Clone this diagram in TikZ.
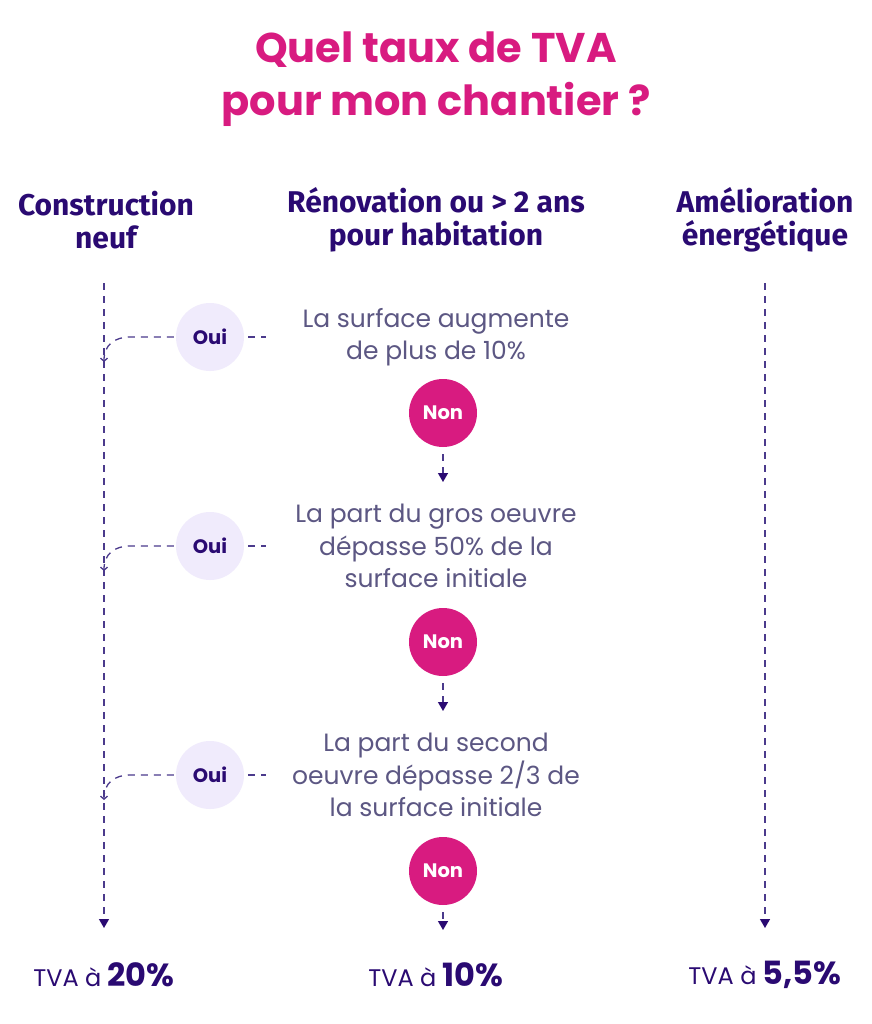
\documentclass[tikz,border=0pt]{standalone}
\usepackage{fontspec}
\setmainfont{Poppins}
\newfontfamily\headfont{Fira Sans}
\usetikzlibrary{arrows.meta}
\definecolor{magc}{HTML}{D81B80}
\definecolor{darkc}{HTML}{2A0A72}
\definecolor{bodyc}{HTML}{5C5783}
\definecolor{dashc}{HTML}{4B3A8C}
\definecolor{lightc}{HTML}{F0EBFC}
\begin{document}
\begin{tikzpicture}[x=1pt,y=-1pt,
  dline/.style={draw=dashc, line width=1.3pt, dash pattern=on 7pt off 6pt},
  endtri/.style={-{Triangle[width=10pt,length=9pt,color=darkc]}},
  endbarb/.style={-{Straight Barb[width=7pt,length=3pt,color=dashc]}},
  titletext/.style={align=center, text=magc, font=\bfseries\fontsize{41.5}{53}\selectfont},
  head/.style={align=center, text=darkc, font=\headfont\bfseries\fontsize{30}{33}\selectfont},
  qtext/.style={align=center, text=bodyc, font=\fontsize{25}{32.5}\selectfont},
  ouic/.style={circle, fill=lightc, minimum size=68pt, inner sep=0pt, text=darkc, font=\bfseries\fontsize{19.5}{19.5}\selectfont},
  nonc/.style={circle, fill=magc, minimum size=68pt, inner sep=0pt, text=white, font=\bfseries\fontsize{19.5}{19.5}\selectfont},
  result/.style={text=darkc, inner sep=0pt},
]
\useasboundingbox[fill=white] (0,0) rectangle (871,1024);

\node[titletext] (title) at (436,79) {Quel taux de TVA\\pour mon chantier ?};

\node[head] (h1) at (106,220) {Construction\\neuf};
\node[head] (h2) at (436,220) {Rénovation ou > 2 ans\\pour habitation};
\node[head] (h3) at (765,220) {Amélioration\\énergétique};

\node[qtext] (q1) at (436,337) {La surface augmente\\de plus de 10\%};
\node[qtext] (q2) at (436,546) {La part du gros oeuvre\\dépasse 50\% de la\\surface initiale};
\node[qtext] (q3) at (436,775) {La part du second\\oeuvre dépasse 2/3 de\\la surface initiale};

\node[nonc] (n1) at (443,413) {Non};
\node[nonc] (n2) at (443,642) {Non};
\node[nonc] (n3) at (443,871) {Non};

\node[ouic] (o1) at (210,337) {Oui};
\node[ouic] (o2) at (210,546) {Oui};
\node[ouic] (o3) at (210,775) {Oui};

\node[result] (r1) at (104,975) {\fontsize{24}{24}\selectfont TVA à \bfseries\fontsize{32}{32}\selectfont 20\%};
\node[result] (r2) at (436,975) {\fontsize{24}{24}\selectfont TVA à \bfseries\fontsize{32}{32}\selectfont 10\%};
\node[result] (r3) at (765,975) {\fontsize{24}{24}\selectfont TVA à \bfseries\fontsize{32}{32}\selectfont 5,5\%};

% column lines
\coordinate (l0) at (104,283);
\coordinate (l1) at (104,928);
\coordinate (rr0) at (765,283);
\coordinate (rr1) at (765,928);
\draw[dline, endtri] (l0) -- (l1);
\draw[dline, endtri] (rr0) -- (rr1);

% centre arrows
\coordinate (a1) at (443,482);
\coordinate (a2) at (443,711);
\coordinate (a3) at (443,930);
\draw[dline, endtri, shorten <=7pt] (n1.south) -- (a1);
\draw[dline, endtri, shorten <=7pt] (n2.south) -- (a2);
\draw[dline, endtri, shorten <=7pt] (n3.south) -- (a3);

% Oui connectors
\foreach \o/\yy in {o1/337, o2/546, o3/775}{
  \draw[dline, shorten <=4pt] (\o.east) -- ++(22,0);
  \coordinate (j) at (104,\yy+25);
  \draw[dline, endbarb, shorten <=2pt] (\o.west) -- (131,\yy) .. controls (114,\yy) and (104,\yy+8) .. (j);
}
\end{tikzpicture}
\end{document}
